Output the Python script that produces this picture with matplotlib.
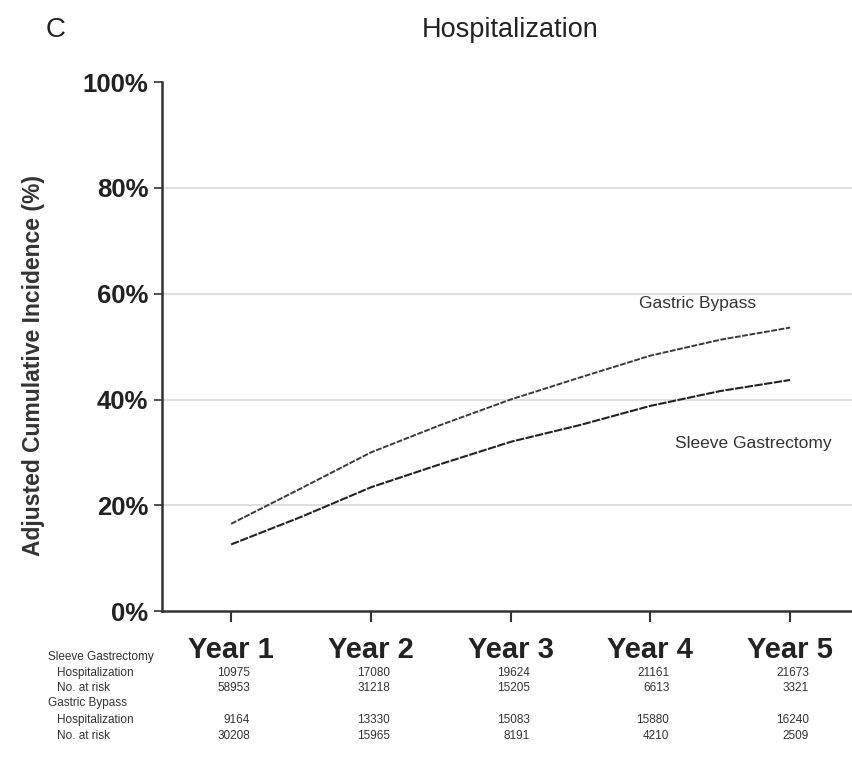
import numpy as np
import matplotlib.pyplot as plt

plt.rcParams['font.family'] = ['Liberation Sans', 'DejaVu Sans']

# adjusted cumulative incidence (%)
years = [1, 1.5, 2, 2.5, 3, 3.5, 4, 4.5, 5]
bypass = [16.5, 23.2, 30.0, 35.2, 40.0, 44.2, 48.3, 51.3, 53.6]
sleeve = [12.6, 17.8, 23.4, 27.8, 32.0, 35.2, 38.8, 41.6, 43.7]

tick_years = [1, 2, 3, 4, 5]
tick_labels = ['Year 1', 'Year 2', 'Year 3', 'Year 4', 'Year 5']

# numbers below the axis
sleeve_hosp = [10975, 17080, 19624, 21161, 21673]
sleeve_risk = [58953, 31218, 15205, 6613, 3321]
bypass_hosp = [9164, 13330, 15083, 15880, 16240]
bypass_risk = [30208, 15965, 8191, 4210, 2509]

fig = plt.figure(figsize=(8.53, 7.61), dpi=100)
ax = fig.add_axes([0.19, 0.197, 0.81, 0.695])

ax.plot(years, bypass, color='#3a3a3a', lw=1.4, ls=(0, (3, 0.8)))
ax.plot(years, sleeve, color='#222222', lw=1.5, ls=(0, (4, 0.7)))

ax.set_xlim(0.506, 5.45)
ax.set_ylim(0, 100)
ax.set_yticks([0, 20, 40, 60, 80, 100])
ax.set_yticklabels(['0%', '20%', '40%', '60%', '80%', '100%'],
                   fontsize=18.5, fontweight='bold', color='#222222')
ax.set_xticks(tick_years)
ax.set_xticklabels(tick_labels, fontsize=21, fontweight='bold', color='#222222')
ax.tick_params(axis='x', length=8, width=1.5, pad=10, color='#333333')
ax.tick_params(axis='y', length=6, width=1.2, pad=4, color='#333333')

for g in [20, 40, 60, 80]:
    ax.axhline(g, color='#d9d9d9', lw=1.2, zorder=0)

for s in ['top', 'right']:
    ax.spines[s].set_visible(False)
for s in ['left', 'bottom']:
    ax.spines[s].set_linewidth(1.8)
    ax.spines[s].set_color('#333333')

ax.set_ylabel('Adjusted Cumulative Incidence (%)', fontsize=16.5,
              fontweight='bold', color='#333333')
ax.yaxis.set_label_coords(-0.17, 0.465)

ax.text(4.34, 58.2, 'Gastric Bypass', fontsize=12.5, color='#333333',
        ha='center', va='center')
ax.text(4.74, 31.7, 'Sleeve Gastrectomy', fontsize=12.5, color='#333333',
        ha='center', va='center')

fig.text(0.053, 0.96, 'C', fontsize=20, color='#222222', va='center')
fig.text(0.598, 0.96, 'Hospitalization', fontsize=19.5, color='#222222',
         ha='center', va='center')

# table of counts under the x axis
rows = [('Sleeve Gastrectomy', None, 0.056),
        ('Hospitalization', sleeve_hosp, 0.067),
        ('No. at risk', sleeve_risk, 0.067),
        ('Gastric Bypass', None, 0.056),
        ('Hospitalization', bypass_hosp, 0.067),
        ('No. at risk', bypass_risk, 0.067)]
row_y = [657, 673, 688, 703, 720, 736]
for (name, vals, xl), py in zip(rows, row_y):
    yf = 1 - py / 761
    fig.text(xl, yf, name, fontsize=8.5, color='#333333', va='center')
    if vals is None:
        continue
    for yr, v in zip(tick_years, vals):
        xd = ax.transData.transform((yr, 0))[0]
        xf = (xd + 19) / fig.bbox.width
        fig.text(xf, yf, str(v), fontsize=8.5, color='#333333',
                 ha='right', va='center')

fig.savefig('out.png', dpi=100)
